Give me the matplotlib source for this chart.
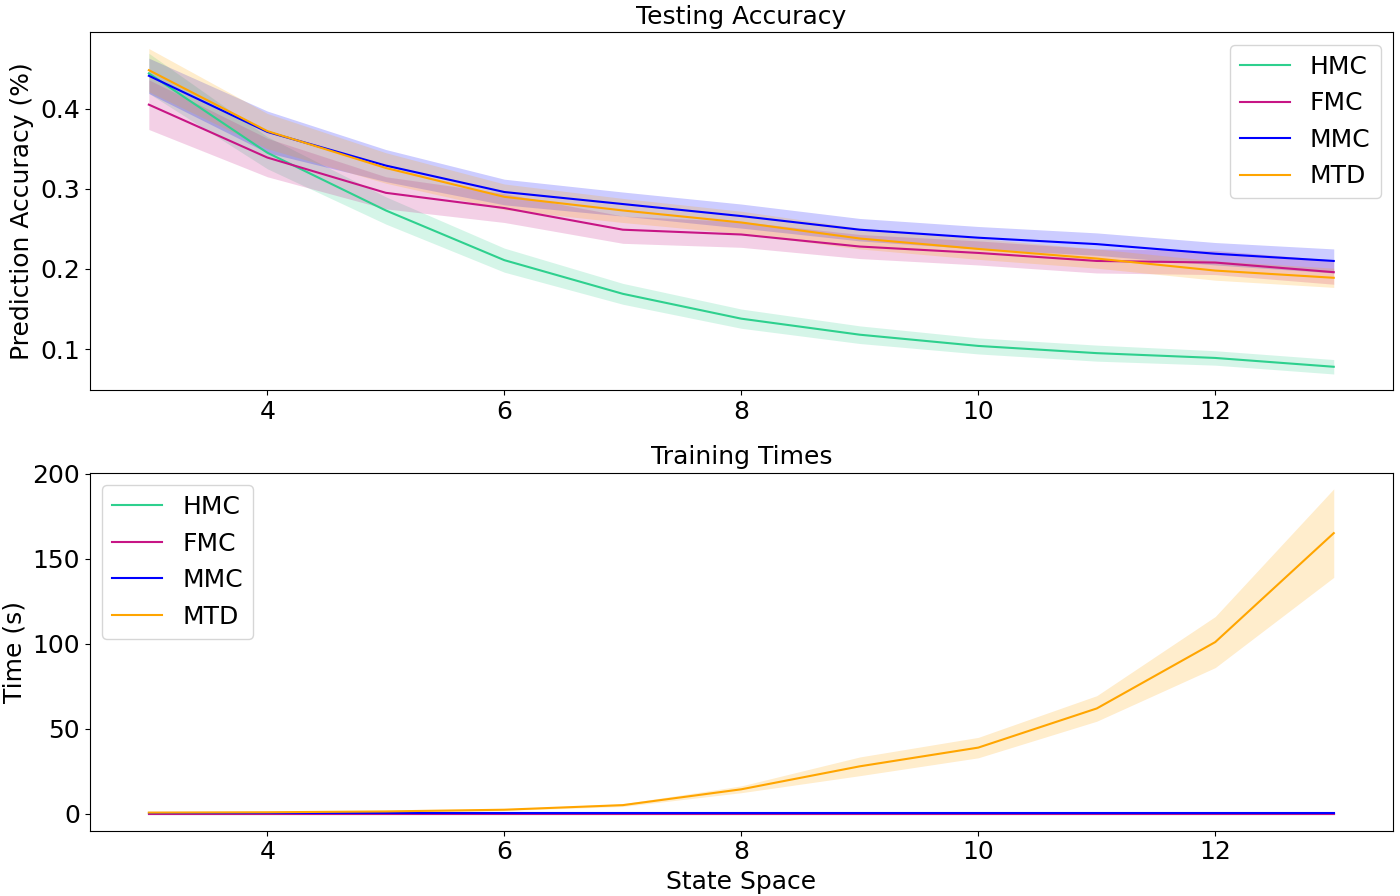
import matplotlib
matplotlib.use("Agg")
import matplotlib.pyplot as plt
import numpy as np

states = np.arange(3, 14)
methods = ["HMC", "FMC", "MMC", "MTD"]
colors = ["#2ed08e", "mediumvioletred", "blue", "orange"]

acc_mean = {
    "HMC": [0.444, 0.345, 0.273, 0.211, 0.169, 0.138, 0.118, 0.104, 0.095, 0.089, 0.078],
    "FMC": [0.405, 0.339, 0.295, 0.276, 0.249, 0.243, 0.228, 0.220, 0.210, 0.208, 0.196],
    "MMC": [0.441, 0.371, 0.329, 0.296, 0.281, 0.266, 0.249, 0.239, 0.231, 0.219, 0.210],
    "MTD": [0.448, 0.372, 0.326, 0.290, 0.273, 0.258, 0.238, 0.225, 0.213, 0.198, 0.189],
}
acc_std = {
    "HMC": [0.025, 0.020, 0.017, 0.015, 0.013, 0.012, 0.011, 0.010, 0.010, 0.009, 0.009],
    "FMC": [0.031, 0.024, 0.020, 0.018, 0.017, 0.016, 0.015, 0.015, 0.015, 0.015, 0.015],
    "MMC": [0.022, 0.026, 0.020, 0.016, 0.015, 0.015, 0.014, 0.014, 0.014, 0.014, 0.015],
    "MTD": [0.027, 0.022, 0.019, 0.016, 0.015, 0.014, 0.013, 0.013, 0.012, 0.012, 0.012],
}
time_mean = {
    "HMC": [0.1, 0.1, 0.1, 0.1, 0.1, 0.1, 0.1, 0.1, 0.1, 0.1, 0.1],
    "FMC": [0.2, 0.2, 0.2, 0.2, 0.2, 0.2, 0.2, 0.2, 0.2, 0.2, 0.2],
    "MMC": [0.4, 0.4, 0.4, 0.4, 0.4, 0.4, 0.4, 0.4, 0.4, 0.4, 0.4],
    "MTD": [0.8, 1.0, 1.5, 2.5, 5.2, 14.5, 28.0, 39.0, 62.0, 101.0, 165.0],
}
time_std = {
    "HMC": [0.05] * 11,
    "FMC": [0.05] * 11,
    "MMC": [0.6] * 11,
    "MTD": [0.2, 0.3, 0.4, 0.5, 0.8, 2.0, 5.5, 6.0, 7.5, 15.0, 26.0],
}

plt.rcParams["font.size"] = 18
plt.rcParams["axes.titlesize"] = 18
fig, (ax1, ax2) = plt.subplots(2, 1, figsize=(14, 8.96), dpi=100)

for m, c in zip(methods, colors):
    mu = np.array(acc_mean[m])
    sd = np.array(acc_std[m])
    ax1.plot(states, mu, color=c, label=m)
    ax1.fill_between(states, mu - sd, mu + sd, color=c, alpha=0.2, linewidth=0)

    mu = np.array(time_mean[m])
    sd = np.array(time_std[m])
    ax2.plot(states, mu, color=c, label=m)
    ax2.fill_between(states, mu - sd, mu + sd, color=c, alpha=0.2, linewidth=0)

ax1.set_title("Testing Accuracy")
ax1.set_ylabel("Prediction Accuracy (%)")
ax1.legend(loc="upper right")

ax2.set_title("Training Times")
ax2.set_ylabel("Time (s)")
ax2.set_xlabel("State Space")
ax2.legend(loc="upper left")

fig.subplots_adjust(left=0.064, right=0.995, top=0.964, bottom=0.073, hspace=0.23)
fig.savefig("out.png")
